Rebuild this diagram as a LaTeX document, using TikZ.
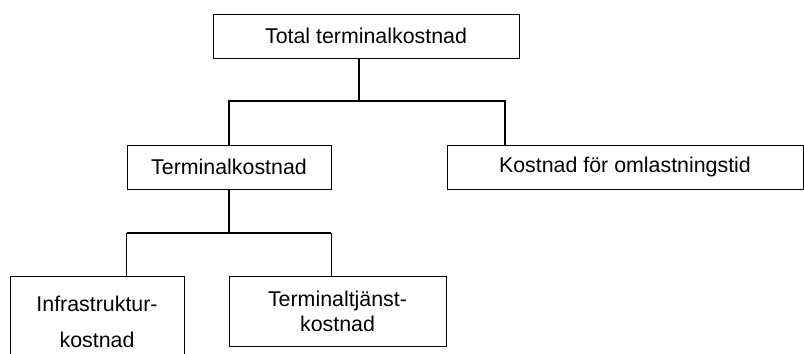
\documentclass[tikz,border=0pt]{standalone}
\usepackage{fontspec}
\setmainfont{Liberation Sans}
\usepackage{tikz}
\usetikzlibrary{positioning}

\begin{document}
\begin{tikzpicture}[
    box/.style={rectangle, draw, line width=0.7pt, minimum height=1.1cm, inner sep=0pt, align=center, font=\fontsize{15.2pt}{17.7pt}\selectfont},
    link/.style={draw, line width=1.4pt},
]
\useasboundingbox (0,0) rectangle (20.1,-8.825);

% Top level
\node[box, minimum width=7.65cm] (total) at (9.15, -0.9) {Total terminalkostnad};

% Second level
\node[box, minimum width=5.1cm] (term) at (5.725, -4.175) {Terminalkostnad};
\node[box, minimum width=8.9cm] (omlast) at (15.625, -4.175) {Kostnad f\"or omlastningstid};

% Third level
\node[box, minimum width=4.35cm, minimum height=2.3cm] (infra) at (2.425, -8.05) {Infrastruktur-\\[7.8pt]kostnad};
\node[box, minimum width=5.425cm, minimum height=1.75cm] (tjanst) at (8.4375, -7.775) {Terminaltj\"anst-\\kostnad};

% Junctions
\coordinate (bus1) at (8.975, -2.525);
\coordinate (right1) at (12.625, -2.525);
\coordinate (bus2) at (5.725, -5.825);

% Connectors top
\draw[link] (total.south -| bus1) -- (bus1);
\draw[link] (term.north) |- (right1) -- (right1 |- omlast.north);

% Connectors bottom
\draw[link] (term.south) -- (term.south |- bus2);
\draw[link] (term.south west |- bus2) -- (term.south east |- bus2);
\draw[link] (term.south west |- bus2) -- (term.south west |- infra.north);
\draw[link] (term.south east |- bus2) -- (term.south east |- tjanst.north);

\end{tikzpicture}
\end{document}
